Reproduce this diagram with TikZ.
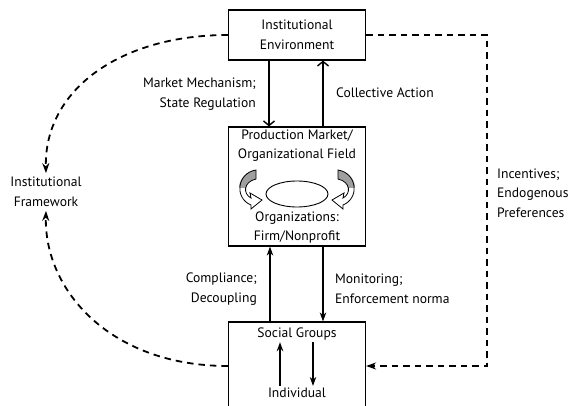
\documentclass[tikz,border=0pt]{standalone}
\usepackage{fontspec}
\setmainfont{PT Sans}
\usetikzlibrary{arrows.meta}

\tikzset{
  box/.style={draw, line width=1.2pt, minimum width=137pt, align=center},
  link/.style={line width=1.4pt, -{Stealth[length=9pt,width=6.5pt]}},
  openlink/.style={line width=1.4pt, -{Straight Barb[length=4.5pt,width=11pt]}},
  dashlink/.style={line width=1.8pt, dash pattern=on 6.5pt off 5pt, -{Stealth[length=10pt,width=7pt]}},
  txt/.style={align=left}
}

\begin{document}
\begin{tikzpicture}[x=1pt, y=-1pt,
  every node/.style={font=\fontsize{13.6}{19.5}\selectfont, inner sep=2pt}]
  \useasboundingbox (0,0) rectangle (574,406);

  % boxes
  \node[box, minimum height=50pt] (env) at (297,35) {Institutional\\Environment};
  \node[box, minimum height=119pt] (field) at (297,186.5) {};
  \node[box, minimum height=110pt] (groups) at (297,377) {};

  % inside the field
  \node[anchor=north, align=center] (prod) at ([yshift=-1pt]field.north)
  {Production Market/\\Organizational Field};
  \node[anchor=south, align=center] (orgs) at ([yshift=1pt]field.south)
  {Organizations:\\Firm/Nonprofit};

  \draw[line width=0.9pt] (297,194) ellipse [x radius=31, y radius=13];

  \foreach \s in {1,-1} {
    \begin{scope}[shift={(297,-2)}, xscale=\s]
      \fill[gray!75] (-41,172) .. controls (-52,174) and (-58,182) .. (-58,190)
      -- (-51,190) .. controls (-51,185) and (-47,182) .. (-41,181) -- cycle;
      \draw[line width=0.8pt] (-41,172) .. controls (-60,175) and (-63,200) .. (-46,207)
      -- (-46,211) -- (-35,202) -- (-47,195) -- (-46,200)
      .. controls (-54,196) and (-54,184) .. (-41,181) -- cycle;
    \end{scope}
  }

  % inside the groups
  \node[anchor=north] (social) at ([yshift=-4pt]groups.north) {Social Groups};
  \node (indiv) at (297,393) {Individual};
  \draw[link] ([xshift=-17pt]indiv.north) -- ([xshift=-17pt]social.south);
  \draw[link] ([xshift=16pt]social.south) -- ([xshift=16pt]indiv.north);

  % between the boxes
  \draw[openlink] ([xshift=-28pt]env.south) -- ([xshift=-28pt]field.north);
  \draw[openlink] ([xshift=26pt]field.north) -- ([xshift=26pt]env.south);
  \draw[link] ([xshift=-27pt]groups.north) -- ([xshift=-27pt]field.south);
  \draw[link] ([xshift=26pt]field.south) -- ([xshift=26pt]groups.north);

  \node[anchor=east, align=right] (mech) at (258,94) {Market Mechanism;\\State Regulation};
  \node[anchor=west] (coll) at (334,93) {Collective Action};
  \node[anchor=east, align=right] (comp) at (259,289) {Compliance;\\Decoupling};
  \node[anchor=west, txt] (monit) at (333,289) {Monitoring;\\Enforcement norma};

  % dashed loops
  \coordinate (ne) at (487,35);
  \coordinate (se) at (487,366);
  \node[txt, anchor=west] (incent) at (495,193) {Incentives;\\Endogenous\\Preferences};
  \draw[dashlink] (env.east) -- (ne) -- (se) -- (se -| groups.east);

  \node[align=center, inner sep=4pt] (frame) at (46,192) {Institutional\\Framework};
  \draw[dashlink] (env.west) .. controls (120,35) and (44,90) .. (frame.north);
  \draw[dashlink] (se -| groups.west) .. controls (110,366) and (44,290) .. (frame.south);
\end{tikzpicture}
\end{document}
